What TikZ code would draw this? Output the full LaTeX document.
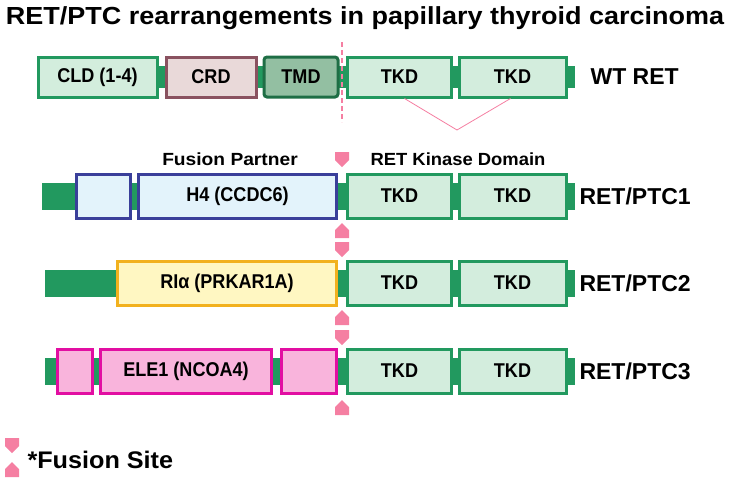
\documentclass[tikz,border=0pt]{standalone}
\usepackage{fontspec}
\usepackage{graphicx}
\setmainfont{Liberation Sans}
\definecolor{gline}{HTML}{22995F}
\definecolor{gfill}{HTML}{D3EDDD}
\definecolor{mkc}{HTML}{F57FA2}
\definecolor{crdf}{HTML}{E9D9D9}\definecolor{crdl}{HTML}{8A5260}
\definecolor{tmdf}{HTML}{93BFA2}\definecolor{tmdl}{HTML}{1E6E45}
\definecolor{bf}{HTML}{E3F3FB}\definecolor{bl}{HTML}{3A3F9A}
\definecolor{yf}{HTML}{FFF7C2}\definecolor{yl}{HTML}{F2B11E}
\definecolor{mf}{HTML}{F9B4DC}\definecolor{ml}{HTML}{E20EA2}
\newcommand{\mkdown}[2]{\fill[mkc] (#1-7,#2) -- (#1+7,#2) -- (#1+7,#2+8) -- (#1,#2+15) -- (#1-7,#2+8) -- cycle;}
\newcommand{\mkup}[2]{\fill[mkc] (#1-7,#2) -- (#1+7,#2) -- (#1+7,#2-8) -- (#1,#2-15) -- (#1-7,#2-8) -- cycle;}
\newcommand{\bt}[1]{\scalebox{0.95}[1.05]{#1}}
\begin{document}
\begin{tikzpicture}[x=1pt,y=-1pt,
 box/.style={draw,line width=3pt,minimum height=#1,inner sep=0pt,font=\bfseries\fontsize{19}{21}\selectfont},
 g/.style={fill=gfill,draw=gline},
 lab/.style={anchor=west,font=\bfseries\fontsize{23}{26}\selectfont},
 hd/.style={font=\bfseries\fontsize{16}{18}\selectfont}]
\useasboundingbox (0,0) rectangle (731,480);
\node[font=\bfseries\fontsize{19}{22}\selectfont] (title) at (365,18) {\scalebox{1.42}[1.3]{RET/PTC rearrangements in papillary thyroid carcinoma}};
% WT
\fill[gline] (37,66) rectangle (575,88);
\node[box=40,fill=crdf,draw=crdl,minimum width=90] (crd) at (211,77) {\bt{CRD}};
\node[box=40,fill=tmdf,draw=tmdl,minimum width=74,rounded corners=3pt] (tmd) at (301,77) {\bt{TMD}};
\node[box=40,g,minimum width=119] (cld) at (97.5,77) {\bt{CLD (1-4)}};
\node[box=40,g,minimum width=104] (t1) at (399.5,77) {\bt{TKD}};
\node[box=40,g,minimum width=107] (t2) at (512.5,77) {\bt{TKD}};
\draw[mkc,line width=2pt,dash pattern=on 5pt off 3pt] (342,42) -- (342,122);
\coordinate (v) at (457,130);
\draw[mkc,line width=0.8pt] ([xshift=5pt]t1.south) -- (v) -- ([xshift=-2pt]t2.south);
\node[lab] (wt) at (587,77) {WT RET};
% PTC1
\fill[gline] (42,183) rectangle (575,210);
\node[box=44,fill=bf,draw=bl,minimum width=54] (p1a) at (103,196) {};
\node[box=44,fill=bf,draw=bl,minimum width=198] (p1b) at (237.5,196) {\bt{H4 (CCDC6)}};
\node[box=44,g,minimum width=104] (p1t1) at (399.5,196) {\bt{TKD}};
\node[box=44,g,minimum width=107] (p1t2) at (512.5,196) {\bt{TKD}};
\node[lab] (l1) at (576,196) {RET/PTC1};
\node[hd] (fp) at (230,159) {\scalebox{1.2}[1.1]{Fusion Partner}};
\node[hd] (rk) at (458,159) {\scalebox{1.15}[1.1]{RET Kinase Domain}};
\mkdown{342}{152}\mkup{342}{238}
% PTC2
\fill[gline] (45,270) rectangle (575,297);
\node[box=44,fill=yf,draw=yl,minimum width=219] (p2b) at (227,283) {\bt{RIα (PRKAR1A)}};
\node[box=44,g,minimum width=104] (p2t1) at (399.5,283) {\bt{TKD}};
\node[box=44,g,minimum width=107] (p2t2) at (512.5,283) {\bt{TKD}};
\node[lab] (l2) at (576,283) {RET/PTC2};
\mkdown{342}{242}\mkup{342}{325}
% PTC3
\fill[gline] (45,358) rectangle (575,385);
\node[box=44,fill=mf,draw=ml,minimum width=35] (p3a) at (75,371) {};
\node[box=44,fill=mf,draw=ml,minimum width=171] (p3b) at (186,371) {\bt{ELE1 (NCOA4)}};
\node[box=44,fill=mf,draw=ml,minimum width=55] (p3c) at (309,371) {};
\node[box=44,g,minimum width=104] (p3t1) at (399.5,371) {\bt{TKD}};
\node[box=44,g,minimum width=107] (p3t2) at (512.5,371) {\bt{TKD}};
\node[lab] (l3) at (576,371) {RET/PTC3};
\mkdown{342}{330}\mkup{342}{415}
% legend
\mkdown{12}{438}\mkup{12}{477}
\node[anchor=west,font=\bfseries\fontsize{24}{26}\selectfont] (fs) at (24,460) {\scalebox{1.05}[1]{*Fusion Site}};
\end{tikzpicture}
\end{document}
